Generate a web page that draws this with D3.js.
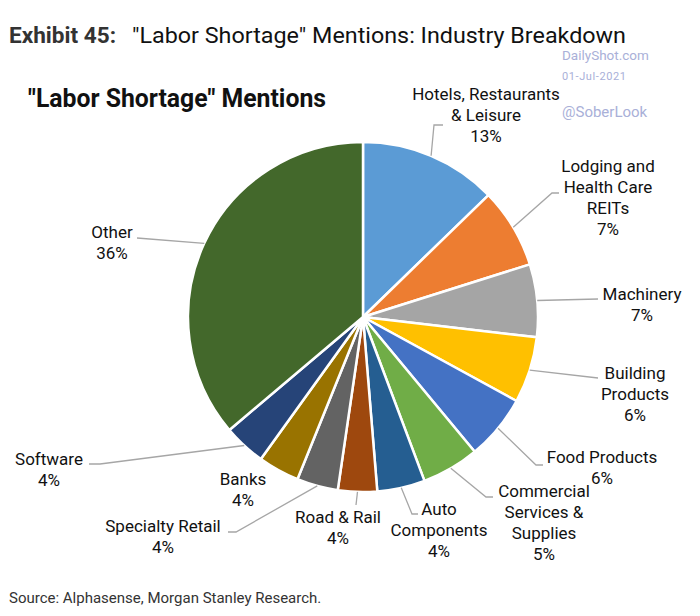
<!DOCTYPE html>
<html>
<head>
<meta charset="utf-8">
<script src="https://cdn.jsdelivr.net/npm/d3@7"></script>
<style>
  html, body { margin: 0; padding: 0; background: #fff; }
  svg { display: block; font-family: Roboto, "Noto Sans", sans-serif; }
</style>
</head>
<body>
<svg id="chart" width="700" height="616"></svg>
<script>
// ---- data ----
const categories = [
  "Hotels, Restaurants & Leisure",
  "Lodging and Health Care REITs",
  "Machinery",
  "Building Products",
  "Food Products",
  "Commercial Services & Supplies",
  "Auto Components",
  "Road & Rail",
  "Specialty Retail",
  "Banks",
  "Software",
  "Other"
];
const shares = [12.7, 7.4, 6.7, 6.1, 6.0, 5.3, 4.4, 3.6, 3.8, 3.8, 3.9, 36.1];
const labelLines = [
  ["Hotels, Restaurants", "& Leisure"],
  ["Lodging and", "Health Care", "REITs"],
  ["Machinery"],
  ["Building", "Products"],
  ["Food Products"],
  ["Commercial", "Services &", "Supplies"],
  ["Auto", "Components"],
  ["Road & Rail"],
  ["Specialty Retail"],
  ["Banks"],
  ["Software"],
  ["Other"]
];
const colors = ["#5B9BD5", "#ED7D31", "#A5A5A5", "#FFC000", "#4472C4", "#70AD47",
                "#255E91", "#9E480E", "#636363", "#997300", "#264478", "#43682B"];

// ---- layout (label anchors and leader bends) ----
const labelLayout = [
  { x: 486, y: 100, leader: [[434, 125], [443, 125]] },
  { x: 608, y: 172, leader: [[552, 193], [559, 193]] },
  { x: 642, y: 300, leader: [[598, 299]] },
  { x: 635, y: 379, leader: [[598, 378]] },
  { x: 602, y: 463, leader: [[536, 465], [543, 465]] },
  { x: 544, y: 497, leader: [[486, 497], [493, 497]] },
  { x: 439, y: 515, leader: [[412, 514], [418, 514]] },
  { x: 338, y: 523, leader: [[356, 505]] },
  { x: 163, y: 532, leader: [[236, 532], [228, 532]] },
  { x: 243, y: 485, leader: null },
  { x: 49,  y: 465, leader: [[100, 464], [89, 464]] },
  { x: 112, y: 238, leader: [[137, 238]] }
];

const svg = d3.select("#chart");
const cx = 363, cy = 317, R = 175;

// Titles
svg.append("text").attr("x", 9).attr("y", 43)
  .attr("font-size", 22).attr("font-weight", "bold").attr("fill", "#333")
  .attr("textLength", 107).attr("lengthAdjust", "spacingAndGlyphs")
  .text("Exhibit 45:");
svg.append("text").attr("x", 132).attr("y", 43)
  .attr("font-size", 22).attr("fill", "#111")
  .attr("textLength", 494).attr("lengthAdjust", "spacingAndGlyphs")
  .text('"Labor Shortage" Mentions: Industry Breakdown');

svg.append("text").attr("x", 28).attr("y", 107)
  .attr("font-size", 26).attr("font-weight", "bold").attr("fill", "#111")
  .attr("textLength", 298).attr("lengthAdjust", "spacingAndGlyphs")
  .text('"Labor Shortage" Mentions');

// Watermark
const wm = "#a9b0d8";
svg.append("text").attr("x", 562).attr("y", 60).attr("font-size", 13.5).attr("fill", wm).text("DailyShot.com");
svg.append("text").attr("x", 562).attr("y", 80).attr("font-size", 11).attr("fill", wm)
  .attr("letter-spacing", 0.6).text("01-Jul-2021");
svg.append("text").attr("x", 562).attr("y", 117).attr("font-size", 15).attr("fill", wm).text("@SoberLook");

// Pie
const pie = d3.pie().sort(null).value(d => d);
const arcs = pie(shares);
const arcGen = d3.arc().innerRadius(0).outerRadius(R);

const g = svg.append("g").attr("transform", `translate(${cx},${cy})`);
g.selectAll("path.slice").data(arcs).join("path")
  .attr("class", "slice")
  .attr("d", arcGen)
  .attr("fill", (d, i) => colors[i])
  .attr("stroke", "#fff")
  .attr("stroke-width", 2.5)
  .attr("stroke-linejoin", "round");

// Leader lines
const line = d3.line();
arcs.forEach((a, i) => {
  const L = labelLayout[i];
  if (!L.leader) return;
  const mid = (a.startAngle + a.endAngle) / 2;
  const start = [cx + R * Math.sin(mid), cy - R * Math.cos(mid)];
  svg.append("path")
    .attr("d", line([start, ...L.leader]))
    .attr("fill", "none")
    .attr("stroke", "#a6a6a6")
    .attr("stroke-width", 1.3);
});

// Labels
arcs.forEach((a, i) => {
  const L = labelLayout[i];
  const lines = labelLines[i].concat([Math.round(shares[i]) + "%"]);
  const t = svg.append("text")
    .attr("text-anchor", "middle")
    .attr("font-size", 17)
    .attr("fill", "#111");
  lines.forEach((s, k) => {
    t.append("tspan").attr("x", L.x).attr("y", L.y + k * 21).text(s);
  });
});

// Source
svg.append("text").attr("x", 9).attr("y", 603)
  .attr("font-size", 15).attr("fill", "#333")
  .text("Source: Alphasense, Morgan Stanley Research.");
</script>
</body>
</html>
